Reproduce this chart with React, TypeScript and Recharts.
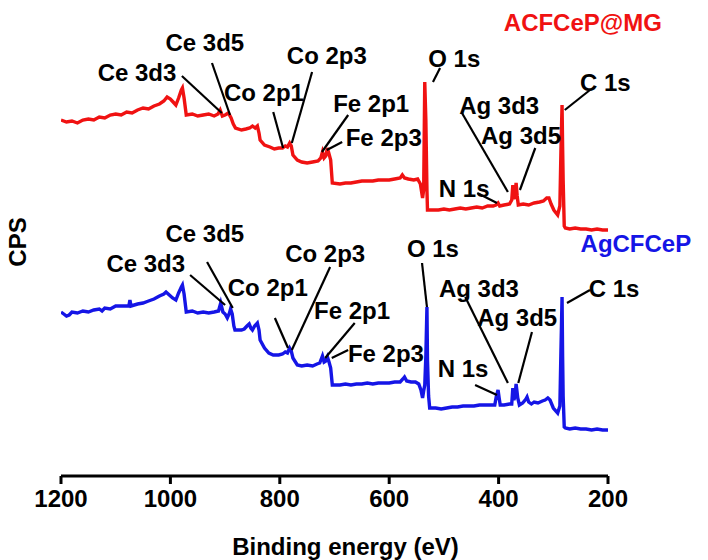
import React from 'react';
import {
  LineChart, Line, XAxis, YAxis, ReferenceLine, ReferenceDot,
} from 'recharts';

// binding energy (eV) and counts
const redEnergy = [
  1200, 1190, 1180, 1170, 1160, 1150, 1140, 1130, 1120, 1110, 1100, 1090, 1080, 1070, 1060, 1050, 1040, 1030, 1020, 1012,
  1006, 1000, 995, 990, 985, 980, 978, 975, 971, 960, 950, 940, 930, 920, 913, 909, 905, 900, 894, 889,
  885, 881, 870, 862, 855, 850, 845, 841, 838, 836, 828, 818, 810, 802, 795, 790, 786, 782, 779, 776,
  768, 760, 750, 740, 730, 725, 722, 719, 716, 713, 710, 707, 704, 690, 680, 670, 660, 650, 640, 630,
  620, 610, 600, 590, 580, 576, 572, 565, 555, 548, 543, 539, 537, 535, 533, 531, 530, 520, 510, 500,
  490, 480, 470, 460, 450, 440, 430, 420, 410, 405, 401, 398, 390, 380, 376, 374, 372, 370, 368, 366,
  364, 355, 345, 335, 325, 318, 312, 308, 304, 299, 292, 288, 286, 284, 283, 282, 280, 278, 270, 260,
  250, 240, 230, 220, 210, 200,
];
const redCps = [
  356, 354, 355, 353, 356, 357, 356, 359, 358, 361, 362, 361, 364, 363, 366, 368, 367, 370, 372, 375,
  379, 377, 374, 371, 378, 386, 388, 378, 361, 362, 360, 361, 362, 360, 362, 366, 360, 361, 363, 358,
  352, 348, 346, 347, 348, 350, 348, 350, 343, 336, 331, 329, 327, 328, 328, 330, 329, 333, 330, 321,
  316, 314, 313, 314, 315, 318, 324, 318, 320, 328, 322, 316, 293, 292, 293, 293, 294, 295, 295, 295,
  296, 296, 296, 297, 298, 301, 298, 297, 296, 297, 292, 278, 286, 394, 356, 286, 266, 266, 266, 267,
  266, 267, 268, 267, 268, 269, 268, 270, 270, 271, 273, 270, 271, 272, 276, 291, 277, 280, 293, 280,
  271, 272, 271, 273, 274, 275, 278, 278, 272, 266, 261, 270, 326, 371, 330, 296, 250, 248, 247, 248,
  247, 247, 246, 247, 246, 246,
];

const blueEnergy = [
  1200, 1195, 1190, 1185, 1180, 1170, 1160, 1150, 1140, 1130, 1125, 1120, 1110, 1100, 1090, 1076, 1074, 1072, 1060, 1050,
  1040, 1030, 1020, 1012, 1008, 1002, 996, 990, 985, 980, 978, 975, 971, 960, 950, 940, 930, 920, 912, 908,
  904, 900, 896, 892, 890, 887, 884, 882, 870, 865, 860, 856, 853, 850, 846, 841, 838, 836, 828, 820,
  812, 802, 795, 790, 786, 782, 779, 776, 768, 760, 750, 740, 732, 727, 722, 719, 716, 713, 710, 707,
  704, 690, 680, 670, 660, 650, 640, 630, 620, 610, 600, 590, 580, 575, 572, 568, 560, 552, 546, 542,
  539, 537, 535, 533, 531, 530, 528, 526, 515, 505, 495, 485, 475, 465, 455, 445, 435, 425, 415, 407,
  404, 401, 399, 397, 390, 380, 376, 374, 372, 370, 368, 365, 362, 356, 350, 348, 345, 340, 335, 328,
  320, 315, 310, 306, 300, 292, 288, 286, 284, 283, 282, 280, 278, 270, 260, 250, 240, 230, 220, 210,
  200,
];
const blueCps = [
  164, 162, 160, 161, 164, 163, 165, 164, 166, 167, 165, 168, 167, 170, 170, 170, 176, 170, 172, 173,
  175, 177, 180, 182, 184, 181, 178, 176, 183, 189, 191, 182, 164, 165, 163, 164, 163, 164, 165, 173,
  164, 162, 158, 163, 167, 162, 150, 146, 146, 147, 150, 152, 148, 146, 150, 153, 146, 136, 128, 123,
  121, 121, 122, 124, 123, 128, 125, 118, 111, 110, 111, 110, 112, 113, 120, 114, 115, 119, 114, 108,
  91, 91, 92, 91, 92, 92, 93, 92, 93, 93, 93, 94, 94, 97, 99, 95, 94, 94, 92, 86,
  78, 85, 91, 120, 169, 116, 80, 68, 68, 67, 68, 69, 69, 70, 70, 70, 71, 71, 71, 71,
  80, 86, 78, 71, 71, 72, 72, 88, 76, 80, 92, 78, 71, 73, 77, 79, 74, 72, 74, 73,
  75, 76, 78, 76, 68, 63, 70, 126, 179, 120, 80, 49, 48, 47, 48, 47, 47, 46, 47, 46,
  46,
];

const xTicks = [1200, 1000, 800, 600, 400, 200];

const sampleNames = ['ACFCeP@MG', 'AgCFCeP'];

// peak labels: text anchor (eV, cps) and leader line from -> to
const redPeaks = [
  { name: 'Ce 3d3', at: [1061, 404], from: [979, 400], to: [906, 363] },
  { name: 'Ce 3d5', at: [937, 434], from: [924, 413], to: [891, 361] },
  { name: 'Co 2p1', at: [829, 384], from: [812, 364], to: [794, 328] },
  { name: 'Co 2p3', at: [714, 421], from: [741, 404], to: [778, 333] },
  { name: 'Fe 2p1', at: [633, 373], from: [675, 361], to: [723, 324] },
  { name: 'Fe 2p3', at: [610, 339], from: [686, 334], to: [714, 326] },
  { name: 'O 1s', at: [481, 418], from: [507, 408], to: [520, 394] },
  { name: 'Ag 3d3', at: [399, 371], from: [467, 363], to: [383, 284] },
  { name: 'Ag 3d5', at: [359, 341], from: [333, 328], to: [361, 286] },
  { name: 'N 1s', at: [463, 288], from: [439, 283], to: [403, 273] },
  { name: 'C 1s', at: [205, 394], from: [233, 386], to: [279, 366] },
];
const bluePeaks = [
  { name: 'Ce 3d3', at: [1045, 213], from: [964, 201], to: [900, 171] },
  { name: 'Ce 3d5', at: [937, 243], from: [933, 214], to: [886, 168] },
  { name: 'Co 2p1', at: [822, 189], from: [809, 158], to: [785, 128] },
  { name: 'Co 2p3', at: [717, 223], from: [708, 209], to: [778, 126] },
  { name: 'Fe 2p1', at: [668, 166], from: [663, 153], to: [717, 118] },
  { name: 'Fe 2p3', at: [606, 123], from: [675, 126], to: [705, 118] },
  { name: 'O 1s', at: [520, 228], from: [540, 213], to: [531, 169] },
  { name: 'Ag 3d3', at: [436, 188], from: [461, 179], to: [383, 93] },
  { name: 'Ag 3d5', at: [366, 159], from: [339, 144], to: [364, 93] },
  { name: 'N 1s', at: [465, 108], from: [443, 91], to: [403, 81] },
  { name: 'C 1s', at: [189, 188], from: [233, 186], to: [275, 173] },
];

const RED = '#f01212';
const BLUE = '#1515e6';
const FONT = '"Liberation Sans", Arial, sans-serif';

const redData = redEnergy.map((ev, i) => ({ ev, cps: redCps[i] }));
const blueData = blueEnergy.map((ev, i) => ({ ev, cps: blueCps[i] }));

const textLabel = (value: string, fill: string, size = 24, angle = 0) => ({
  value, position: 'center' as const, fill, fontSize: size, fontWeight: 'bold', fontFamily: FONT, angle,
});

export default function App() {
  const peaks = [...redPeaks, ...bluePeaks];
  return (
    <div style={{ position: 'absolute', left: 0, top: 0, width: 708, height: 560, background: '#fff' }}>
      <LineChart width={708} height={560} margin={{ top: 33, right: 100, bottom: 0, left: 61 }}>
        <XAxis
          type="number" dataKey="ev" domain={[200, 1200]} reversed ticks={xTicks}
          allowDataOverflow height={84} tickSize={8} tickMargin={6}
          axisLine={{ stroke: '#000', strokeWidth: 3 }}
          tickLine={{ stroke: '#000', strokeWidth: 3 }}
          tick={{ fill: '#000', fontSize: 24, fontWeight: 'bold', fontFamily: FONT }}
          label={{ value: 'Binding energy (eV)', position: 'insideBottom', offset: 5, dx: 11, fill: '#000', fontSize: 24, fontWeight: 'bold', fontFamily: FONT }}
        />
        <YAxis
          type="number" dataKey="cps" domain={[0, 443]} width={0} tick={false} tickLine={false}
          axisLine={{ stroke: '#000', strokeWidth: 3 }}
        />
        <Line data={redData} dataKey="cps" stroke={RED} strokeWidth={3.4} dot={false} isAnimationActive={false} type="linear" />
        <Line data={blueData} dataKey="cps" stroke={BLUE} strokeWidth={3.4} dot={false} isAnimationActive={false} type="linear" />
        {peaks.map((p, i) => (
          <ReferenceLine
            key={`l-${i}`} ifOverflow="visible" stroke="#000" strokeWidth={2.2}
            segment={[{ x: p.from[0], y: p.from[1] }, { x: p.to[0], y: p.to[1] }]}
          />
        ))}
        {peaks.map((p, i) => (
          <ReferenceDot
            key={`t-${i}`} x={p.at[0]} y={p.at[1]} r={0} fill="none" stroke="none"
            ifOverflow="visible" label={textLabel(p.name, '#000')}
          />
        ))}
        <ReferenceDot x={246} y={454} r={0} fill="none" stroke="none" ifOverflow="visible" label={textLabel(sampleNames[0], RED)} />
        <ReferenceDot x={149} y={233} r={0} fill="none" stroke="none" ifOverflow="visible" label={textLabel(sampleNames[1], BLUE)} />
        <ReferenceDot x={1280} y={234} r={0} fill="none" stroke="none" ifOverflow="visible" label={textLabel('CPS', '#000', 24, -90)} />
      </LineChart>
    </div>
  );
}
